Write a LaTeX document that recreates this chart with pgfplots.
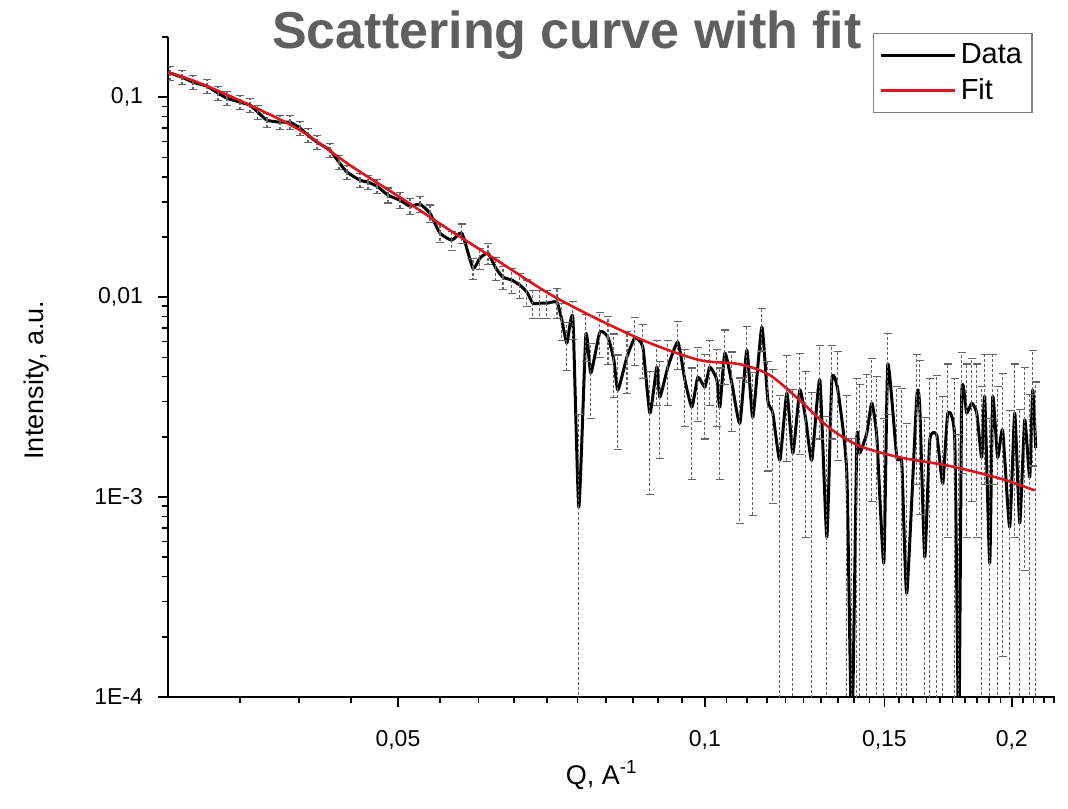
\documentclass[border=0pt]{standalone}
\usepackage{pgfplots}
\pgfplotsset{compat=1.18}
\usepackage{pgfplotstable}
\usepackage{fontspec}
\setmainfont{Liberation Sans}
\definecolor{fitred}{RGB}{220,20,30}
\definecolor{titlegray}{RGB}{95,95,95}

% scattering data: Q, intensity, error
\pgfplotstableread{
q y e
0.02989 0.13183 0.0105
0.03071 0.12589 0.0100
0.03148 0.11885 0.0095
0.03249 0.11350 0.0091
0.03331 0.10471 0.0084
0.03399 0.09886 0.0079
0.03500 0.09441 0.0076
0.03580 0.09120 0.0073
0.03645 0.08414 0.0067
0.03720 0.07674 0.0061
0.03831 0.07499 0.0060
0.03919 0.07499 0.0060
0.04008 0.06998 0.0056
0.04081 0.06457 0.0052
0.04165 0.05957 0.0048
0.04289 0.05433 0.0043
0.04377 0.04732 0.0038
0.04457 0.04217 0.0034
0.04590 0.03846 0.0031
0.04673 0.03758 0.0030
0.04769 0.03589 0.0029
0.04889 0.03236 0.0028
0.05023 0.03055 0.0027
0.05138 0.02851 0.0026
0.05255 0.02917 0.0027
0.05375 0.02630 0.0026
0.05498 0.02089 0.0022
0.05648 0.01928 0.0021
0.05777 0.02089 0.0023
0.05923 0.01396 0.0017
0.06017 0.01567 0.0019
0.06127 0.01660 0.0020
0.06238 0.01396 0.0018
0.06338 0.01259 0.0017
0.06468 0.01216 0.0017
0.06586 0.01148 0.0016
0.06691 0.01059 0.0016
0.06782 0.00933 0.0015
0.06890 0.00933 0.0015
0.07000 0.00933 0.0015
0.07160 0.00944 0.0016
0.07241 0.00767 0.0016
0.07323 0.00589 0.0016
0.07423 0.00785 0.0017
0.07524 0.000891 0.0017
0.07644 0.00646 0.0017
0.07731 0.00417 0.0017
0.07890 0.00668 0.0017
0.08034 0.00631 0.0017
0.08143 0.00484 0.0017
0.08217 0.00343 0.0017
0.08386 0.00501 0.0017
0.08538 0.00624 0.0017
0.08694 0.00562 0.0017
0.08833 0.00263 0.0016
0.08973 0.00447 0.0016
0.09034 0.00316 0.0016
0.09199 0.00447 0.0016
0.09409 0.00596 0.0016
0.09559 0.00385 0.0016
0.09711 0.00282 0.0016
0.09843 0.00398 0.0016
0.10000 0.00355 0.0016
0.10113 0.00447 0.0016
0.10275 0.00385 0.0016
0.10344 0.00282 0.0016
0.10462 0.00525 0.0016
0.10628 0.00372 0.0016
0.10822 0.00234 0.0016
0.10995 0.00543 0.0017
0.11144 0.00251 0.0017
0.11373 0.00708 0.0017
0.11528 0.00305 0.0017
0.11659 0.00263 0.0017
0.11845 0.00153 0.0017
0.12034 0.00331 0.0018
0.12198 0.00166 0.0018
0.12392 0.00343 0.0018
0.12561 0.00243 0.0018
0.12732 0.00153 0.0018
0.12965 0.00385 0.0019
0.13171 0.000631 0.0019
0.13321 0.00385 0.0019
0.13502 0.00343 0.0019
0.13779 0.00132 0.0019
0.13936 0.00006 0.0019
0.14094 0.00193 0.0020
0.14190 0.00166 0.0020
0.14416 0.00209 0.0020
0.14580 0.00295 0.0020
0.14745 0.00200 0.0020
0.14980 0.000468 0.0020
0.15116 0.00460 0.0020
0.15426 0.00158 0.0020
0.15601 0.00148 0.0020
0.15778 0.000331 0.0020
0.16138 0.00316 0.0020
0.16248 0.00282 0.0020
0.16432 0.000501 0.0020
0.16619 0.00193 0.0020
0.16884 0.00204 0.0020
0.17114 0.00117 0.0020
0.17309 0.00263 0.0020
0.17584 0.00193 0.0020
0.17744 0.00006 0.0020
0.17864 0.00331 0.0020
0.18067 0.00263 0.0020
0.18272 0.00295 0.0020
0.18479 0.00263 0.0020
0.18688 0.00158 0.0020
0.18815 0.00316 0.0020
0.19029 0.000468 0.0020
0.19158 0.00316 0.0020
0.19375 0.00158 0.0020
0.19595 0.00216 0.0020
0.19907 0.000708 0.0020
0.20133 0.00263 0.0020
0.20362 0.000741 0.0020
0.20593 0.00243 0.0020
0.20826 0.00126 0.0020
0.20968 0.00343 0.0020
0.21110 0.00176 0.0020
}\datatable

% fitted curve
\pgfplotstableread{
q y
0.02975 0.1334
0.03198 0.1175
0.03580 0.0912
0.04008 0.0684
0.04487 0.0457
0.05023 0.0316
0.05623 0.0216
0.06295 0.01496
0.07047 0.01035
0.07889 0.00767
0.08833 0.00589
0.09888 0.00484
0.1082 0.00462
0.1158 0.00407
0.1239 0.00305
0.1326 0.00221
0.1419 0.00180
0.1553 0.00158
0.1739 0.00143
0.1946 0.00124
0.2106 0.00108
}\fittable

\begin{document}
\begin{tikzpicture}
\begin{axis}[
  at={(0,0)}, anchor=south west,
  scale only axis, width=443.5pt, height=330pt,
  xmode=log, ymode=log,
  xmin=0.02975, xmax=0.2205, ymin=1e-4, ymax=0.2,
  axis lines*=left,
  axis line style={line width=1pt},
  tick align=outside,
  major tick length=5pt, minor tick length=3pt,
  every tick/.style={black, line width=0.8pt},
  xtick={0.05,0.1,0.15,0.2},
  xticklabels={{0,05},{0,1},{0,15},{0,2}},
  minor xtick={0.035,0.04,0.045,0.055,0.06,0.065,0.07,0.075,0.08,0.085,0.09,0.095,
    0.105,0.11,0.115,0.12,0.125,0.13,0.135,0.14,0.145,0.155,0.16,0.165,0.17,0.175,
    0.18,0.185,0.19,0.195,0.205,0.21,0.215,0.22},
  ytick={0.1,0.01,0.001,0.0001},
  yticklabels={{0,1},{0,01},1E-3,1E-4},
  minor ytick={2e-4,3e-4,4e-4,5e-4,6e-4,7e-4,8e-4,9e-4,
    2e-3,3e-3,4e-3,5e-3,6e-3,7e-3,8e-3,9e-3,
    0.02,0.03,0.04,0.05,0.06,0.07,0.08,0.09,0.2},
  every tick label/.append style={font=\fontsize{11.5}{13}\selectfont},
  xticklabel style={yshift=-8pt},
  yticklabel style={xshift=-4pt},
  xlabel={Q, A\textsuperscript{-1}},
  xlabel style={at={(0.489,-0.118)}, anchor=center, font=\fontsize{13.5}{16}\selectfont},
  ylabel={Intensity, a.u.},
  ylabel style={at={(-0.148,0.48)}, anchor=center, font=\fontsize{13.5}{16}\selectfont},
  legend style={at={(0.795,1.006)}, anchor=north west, draw=gray, line width=0.6pt,
    font=\fontsize{14.5}{16}\selectfont, inner sep=3pt, row sep=2pt},
  legend cell align=left,
  legend image code/.code={\draw[#1] (0pt,0pt) -- (37pt,0pt);},
]
\addplot[black, line width=1.5pt, line join=round, smooth, tension=0.3,
  error bars/.cd, y dir=both, y explicit,
  error bar style={dash pattern=on 1.5pt off 1pt, line width=0.6pt, black!60},
  error mark options={solid, black!60, line width=0.6pt, mark size=2pt, rotate=90}]
  table[x=q, y=y, y error plus=e, y error minus expr={min(\thisrow{e},0.99*\thisrow{y})}] {\datatable};
\addlegendentry{Data}
\addplot[fitred, line width=1.3pt, smooth] table[x=q, y=y] {\fittable};
\addlegendentry{Fit}
\end{axis}
% chart title, baseline just under the top of the y axis
\node[anchor=base, font=\bfseries\fontsize{26}{30}\selectfont, text=titlegray]
  at (199.5pt,324pt) {Scattering curve with fit};
\pgfresetboundingbox
\path[use as bounding box] (-84pt,-55.5pt) rectangle (450pt,348.5pt);
\end{tikzpicture}
\end{document}
